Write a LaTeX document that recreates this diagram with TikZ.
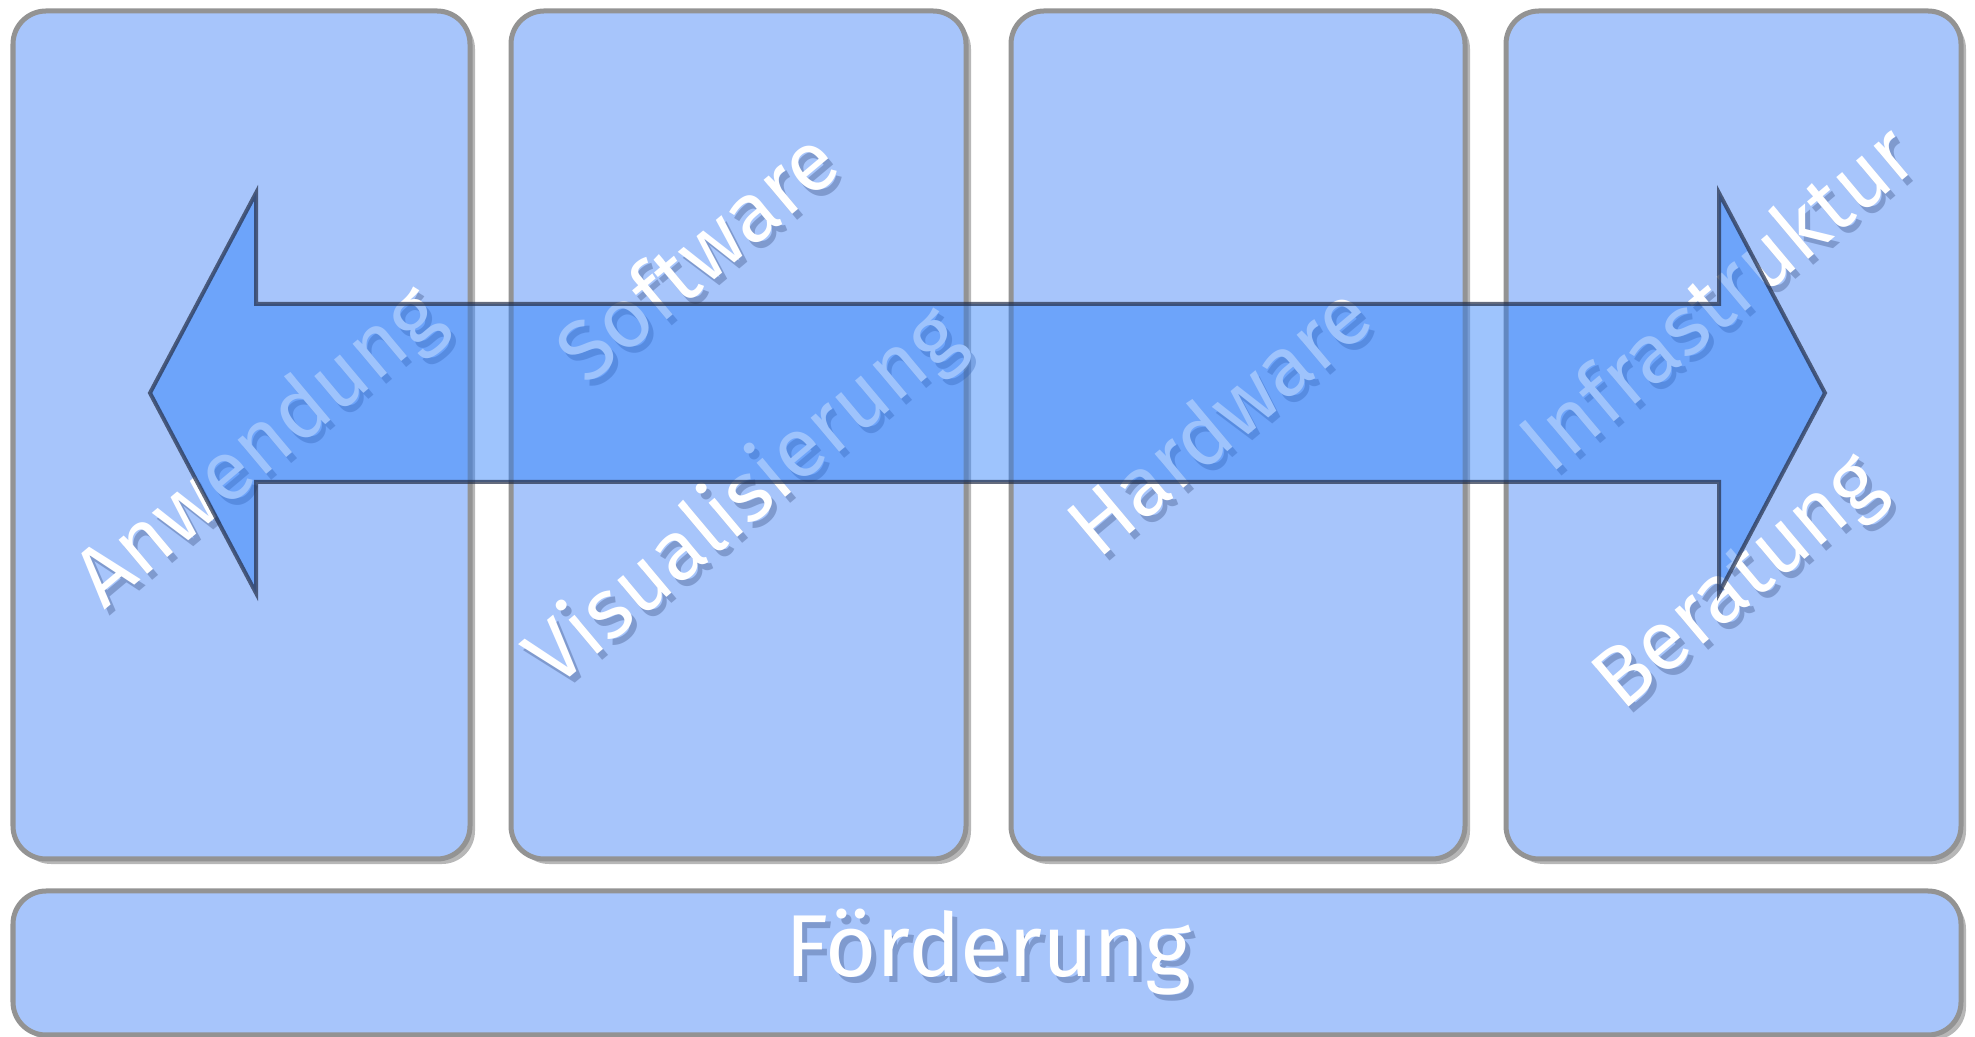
\documentclass[tikz,border=0pt]{standalone}
\usepackage{fontspec}
\setmainfont{Fira Sans}
\usetikzlibrary{shadows}
\definecolor{boxfill}{RGB}{167,197,251}
\definecolor{boxline}{RGB}{147,147,147}
\definecolor{arrowfill}{RGB}{40,124,250}
\definecolor{arrowline}{RGB}{35,45,70}
\definecolor{txtshadow}{RGB}{35,55,105}

\begin{document}
\begin{tikzpicture}[x=0.01cm,y=-0.01cm,
  pillar/.style={fill=boxfill,draw=boxline,line width=0.05cm,rounded corners=0.33cm,
    drop shadow={shadow xshift=0.05cm,shadow yshift=-0.05cm,opacity=0.4,fill=black!70}},
  word/.style={text=white,font=\fontsize{25}{30}\selectfont,inner sep=0},
  wordshadow/.style={word,text=txtshadow,text opacity=0.3},
  slant/.style={word,rotate=40,font=\fontsize{24}{29}\selectfont},
  slantshadow/.style={slant,text=txtshadow,text opacity=0.3}]
\useasboundingbox (0,0) rectangle (1975,1037);
% the four pillars and the base
\path[pillar] (13,11) rectangle (470,859);
\path[pillar] (511,11) rectangle (966,859);
\path[pillar] (1011,11) rectangle (1465,859);
\path[pillar] (1506,11) rectangle (1961,859);
\path[pillar] (13,891) rectangle (1961,1035);
% labels, each with its shadow
\node[wordshadow] (foerd-s) at (993,958) {Förderung};
\node[word] (foerd) at (988,952) {Förderung};
\node[slantshadow] (anw-s) at (266,456) {Anwendung};
\node[slant] (anw) at (261,450) {Anwendung};
\node[slantshadow] (soft-s) at (701,261) {Software};
\node[slant] (soft) at (696,255) {Software};
\node[slantshadow] (visu-s) at (751,505) {Visualisierung};
\node[slant] (visu) at (746,499) {Visualisierung};
\node[slantshadow] (hard-s) at (1223,425) {Hardware};
\node[slant] (hard) at (1218,419) {Hardware};
\node[slantshadow] (infra-s) at (1721,302) {Infrastruktur};
\node[slant] (infra) at (1716,296) {Infrastruktur};
\node[slantshadow] (berat-s) at (1747,592) {Beratung};
\node[slant] (berat) at (1742,586) {Beratung};
% double arrow on top
\draw[fill=arrowfill,fill opacity=0.45,draw=arrowline,draw opacity=0.7,line width=0.04cm,line join=miter]
  (150,393) -- (256,193) -- (256,304) -- (1719,304) -- (1719,193) -- (1825,393)
  -- (1719,593) -- (1719,482) -- (256,482) -- (256,593) -- cycle;
\end{tikzpicture}
\end{document}
